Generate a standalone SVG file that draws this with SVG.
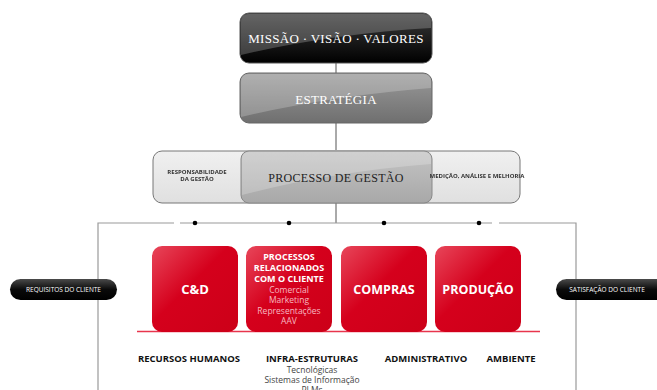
<svg xmlns="http://www.w3.org/2000/svg" width="657" height="390" viewBox="0 0 657 390">
  <defs>
    <linearGradient id="gBlack" x1="0" y1="0" x2="0" y2="1">
      <stop offset="0" stop-color="#3a3a3a"/>
      <stop offset="1" stop-color="#000"/>
    </linearGradient>
    <linearGradient id="gGray" x1="0" y1="0" x2="0" y2="1">
      <stop offset="0" stop-color="#9a9a9a"/>
      <stop offset="1" stop-color="#6f6f6f"/>
    </linearGradient>
    <linearGradient id="gMid" x1="0" y1="0" x2="0" y2="1">
      <stop offset="0" stop-color="#c4c4c4"/>
      <stop offset="1" stop-color="#a8a8a8"/>
    </linearGradient>
    <linearGradient id="gLight" x1="0" y1="0" x2="0" y2="1">
      <stop offset="0" stop-color="#f0f0f0"/>
      <stop offset="1" stop-color="#e0e0e0"/>
    </linearGradient>
    <linearGradient id="gRed" x1="0" y1="0" x2="1" y2="1">
      <stop offset="0" stop-color="#e8465a"/>
      <stop offset="0.45" stop-color="#d5001c"/>
      <stop offset="1" stop-color="#cc0018"/>
    </linearGradient>
    <linearGradient id="gPill" x1="0" y1="0" x2="0" y2="1">
      <stop offset="0" stop-color="#4a4a4a"/>
      <stop offset="0.5" stop-color="#0a0a0a"/>
      <stop offset="1" stop-color="#000"/>
    </linearGradient>
    <filter id="soft" x="-5%" y="-20%" width="110%" height="140%">
      <feGaussianBlur stdDeviation="0.6"/>
    </filter>
  </defs>
  <style>
    .conn { stroke: #9a9a9a; stroke-width: 1.2; fill: none; }
    .stem { stroke: #555; stroke-width: 1; fill: none; }
    .dot { fill: #000; }
    .gloss { fill: #ffffff; opacity: 0.22; }
    .title { font-family: "Liberation Serif", serif; font-size: 13px; fill: #fff; text-anchor: middle; letter-spacing: 0.3px; }
    .titleDark { font-family: "Liberation Serif", serif; font-size: 12px; fill: #222; text-anchor: middle; letter-spacing: 0.3px; }
    .side { font-family: "Open Sans", "Liberation Sans", sans-serif; font-size: 6px; fill: #333; text-anchor: middle; font-weight: bold; }
    .redT { font-family: "Open Sans", "Liberation Sans", sans-serif; font-weight: bold; fill: #fff; text-anchor: middle; }
    .redS { font-family: "Open Sans", "Liberation Sans", sans-serif; fill: #f7b8c0; text-anchor: middle; font-size: 8.5px; }
    .pill { font-family: "Open Sans", "Liberation Sans", sans-serif; font-size: 6.5px; fill: #fff; text-anchor: middle; }
    .sup { font-family: "Open Sans", "Liberation Sans", sans-serif; font-weight: bold; font-size: 9.5px; fill: #111; text-anchor: middle; }
    .supS { font-family: "Open Sans", "Liberation Sans", sans-serif; font-size: 8.5px; fill: #444; text-anchor: middle; }
  </style>

  <!-- connectors -->
  <g id="connectors">
    <line class="stem" x1="336" y1="63" x2="336" y2="73"/>
    <line class="stem" x1="336" y1="123" x2="336" y2="150"/>
    <line class="stem" x1="336" y1="203" x2="336" y2="223"/>
    <polyline class="conn" points="98,390 98,223 174,223"/>
    <line class="conn" x1="180" y1="223" x2="492" y2="223"/>
    <polyline class="conn" points="499,223 576,223 576,390"/>
    <circle class="dot" cx="195" cy="223" r="2.3"/>
    <circle class="dot" cx="289" cy="223" r="2.3"/>
    <circle class="dot" cx="384" cy="223" r="2.3"/>
    <circle class="dot" cx="479" cy="223" r="2.3"/>
    <line x1="137" y1="331.5" x2="540" y2="331.5" stroke="#e8354d" stroke-width="1.3"/>
  </g>

  <!-- mission / vision / values -->
  <g id="missao">
    <rect x="240" y="13" width="192" height="50" rx="9" fill="url(#gBlack)" stroke="#555" stroke-width="1"/>
    <path class="gloss" d="M249,14 H423 Q431,14 431,22 V28 Q330,34 241,55 V22 Q241,14 249,14 Z"/>
    <text class="title" x="336" y="43">MISSÃO · VISÃO · VALORES</text>
  </g>

  <!-- strategy -->
  <g id="estrategia">
    <rect x="240" y="73" width="192" height="50" rx="9" fill="url(#gGray)" stroke="#666" stroke-width="1"/>
    <path class="gloss" d="M249,74 H423 Q431,74 431,82 V88 Q330,96 241,117 V82 Q241,74 249,74 Z"/>
    <text class="title" x="336" y="104" font-size="11">ESTRATÉGIA</text>
  </g>

  <!-- management process row -->
  <g id="gestao">
    <rect x="153" y="151" width="367" height="52" rx="9" fill="url(#gLight)" stroke="#777" stroke-width="1"/>
    <rect x="241" y="151" width="191" height="52" rx="8" fill="url(#gMid)" stroke="#888" stroke-width="1"/>
    <path class="gloss" d="M249,152 H424 Q431,152 431,159 V164 Q330,172 242,195 V159 Q242,152 249,152 Z"/>
    <text class="titleDark" x="336" y="182">PROCESSO DE GESTÃO</text>
    <g filter="url(#soft)">
      <text class="side" x="197" y="174">RESPONSABILIDADE</text>
      <text class="side" x="197" y="181">DA GESTÃO</text>
      <text class="side" x="477" y="178">MEDIÇÃO, ANÁLISE E MELHORIA</text>
    </g>
  </g>

  <!-- customer pills -->
  <g id="requisitos">
    <rect x="10" y="279" width="107" height="21" rx="10.5" fill="url(#gPill)"/>
    <text class="pill" x="63.5" y="292">REQUISITOS DO CLIENTE</text>
  </g>
  <g id="satisfacao">
    <rect x="556" y="279" width="112" height="21" rx="10.5" fill="url(#gPill)"/>
    <text class="pill" x="607" y="292">SATISFAÇÃO DO CLIENTE</text>
  </g>

  <!-- core processes -->
  <g id="cd">
    <rect x="152" y="246" width="86" height="86" rx="10" fill="url(#gRed)"/>
    <text class="redT" x="195" y="294" font-size="13">C&amp;D</text>
  </g>
  <g id="processos-cliente">
    <rect x="246" y="246" width="86" height="86" rx="10" fill="url(#gRed)"/>
    <text class="redT" x="289" y="260" font-size="9">PROCESSOS</text>
    <text class="redT" x="289" y="271" font-size="9">RELACIONADOS</text>
    <text class="redT" x="289" y="282" font-size="9">COM O CLIENTE</text>
    <text class="redS" x="289" y="292.5">Comercial</text>
    <text class="redS" x="289" y="303">Marketing</text>
    <text class="redS" x="289" y="313.5">Representações</text>
    <text class="redS" x="289" y="324">AAV</text>
  </g>
  <g id="compras">
    <rect x="341" y="246" width="86" height="86" rx="10" fill="url(#gRed)"/>
    <text class="redT" x="384" y="294" font-size="12.5">COMPRAS</text>
  </g>
  <g id="producao">
    <rect x="435" y="246" width="86" height="86" rx="10" fill="url(#gRed)"/>
    <text class="redT" x="478" y="294" font-size="12.5">PRODUÇÃO</text>
  </g>

  <!-- support processes -->
  <g id="recursos-humanos">
    <text class="sup" x="189" y="362">RECURSOS HUMANOS</text>
  </g>
  <g id="infra-estruturas">
    <text class="sup" x="312" y="362">INFRA-ESTRUTURAS</text>
    <text class="supS" x="312" y="373">Tecnológicas</text>
    <text class="supS" x="312" y="383">Sistemas de Informação</text>
    <text class="supS" x="312" y="393">PLMs</text>
  </g>
  <g id="administrativo">
    <text class="sup" x="426" y="362">ADMINISTRATIVO</text>
  </g>
  <g id="ambiente">
    <text class="sup" x="511" y="362">AMBIENTE</text>
  </g>
</svg>
